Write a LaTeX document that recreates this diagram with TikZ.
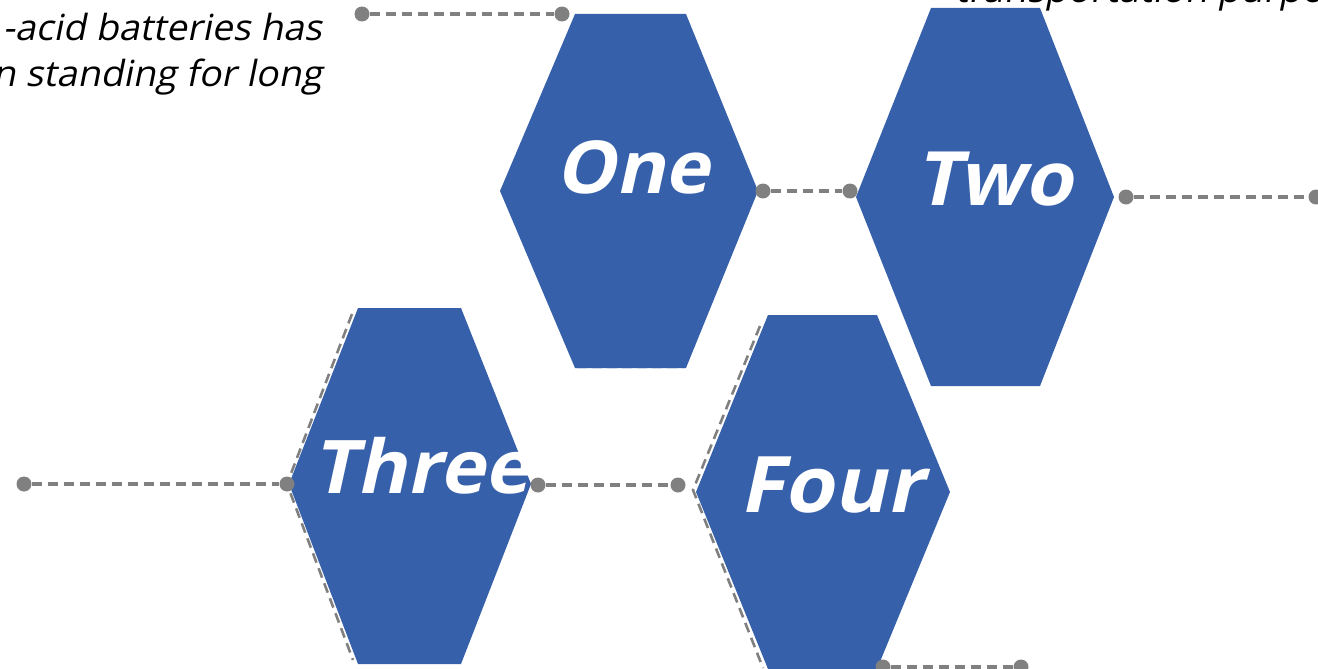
\documentclass[tikz,border=0pt]{standalone}
\usepackage{fontspec}
\setmainfont{Open Sans}[FakeSlant=0.2,FakeStretch=1.04]
\newfontfamily\lblfont{Open Sans}[FakeSlant=0.22,FakeStretch=1.03]
\definecolor{hexblue}{RGB}{55,96,170}
\definecolor{conngray}{RGB}{128,128,128}
\begin{document}
\begin{tikzpicture}[x=1pt,y=-1pt,
  hexfill/.style={fill=hexblue},
  dot/.style={circle,fill=conngray,inner sep=0pt,minimum size=15pt},
  conn/.style={draw=conngray,line width=3.2pt,dash pattern=on 10pt off 6pt},
  lbl/.style={text=white,anchor=base,inner sep=0pt},
  body/.style={font=\fontsize{36}{45}\selectfont,inner sep=0pt,text=black}]
\useasboundingbox (0,0) rectangle (1318,669);
\clip (0,0) rectangle (1318,669);
% hexagons
\fill[hexfill] (500,191) -- (575,14) -- (686,14) -- (758,191) -- (686,368) -- (575,368) -- cycle;
\fill[hexfill] (856,197) -- (931,8) -- (1040,8) -- (1114,197) -- (1040,386) -- (931,386) -- cycle;
\fill[hexfill] (289,484) -- (358,308) -- (461,308) -- (531,484) -- (461,664) -- (358,664) -- cycle;
\fill[hexfill] (696,492) -- (768,315) -- (877,315) -- (950,492) -- (877,669) -- (768,669) -- cycle;
\draw[white!75!hexblue,line width=1pt,dash pattern=on 10pt off 5pt] (577,368) -- (684,368);
% dashed outlines
\coordinate (t1) at (352,314);
\coordinate (t3) at (353,660);
\coordinate (f1) at (760,326);
\coordinate (f2) at (693,490);
\coordinate (f3) at (763,668);
% dots
\node[dot] (d1) at (362,14) {};
\node[dot] (d2) at (562,14) {};
\node[dot] (d3) at (763,191) {};
\node[dot] (d4) at (850,191) {};
\node[dot] (d5) at (1126,197) {};
\node[dot] (d6) at (1316,197) {};
\node[dot] (d7) at (24,484) {};
\node[dot] (d8) at (287,484) {};
\node[dot] (d9) at (538,485) {};
\node[dot] (d10) at (678,485) {};
\node[dot] (d11) at (883,667) {};
\node[dot] (d12) at (1021,667) {};
\draw[conn] (d1) -- (d2);
\draw[conn] (d3) -- (d4);
\draw[conn] (d5) -- (d6);
\draw[conn] (d7) -- (d8);
\draw[conn] (d9) -- (d10);
\draw[conn] (d11) -- (d12);
\draw[conn,line width=2.6pt] (t1) -- (d8.center) -- (t3);
\draw[conn,line width=2.6pt] (f1) -- (f2) -- (f3);
% labels
\node[lbl,font=\lblfont\bfseries\fontsize{73}{73}\selectfont] (one) at (632,193) {One};
\node[lbl,font=\lblfont\bfseries\fontsize{75}{75}\selectfont] (two) at (994,205) {Two};
\node[lbl,font=\lblfont\bfseries\fontsize{74}{74}\selectfont] (three) at (421,493) {Three};
\node[lbl,font=\lblfont\bfseries\fontsize{78}{78}\selectfont] (four) at (831,512) {Four};
% body text
\node[body,anchor=base east] (txa) at (322,41) {-acid batteries has};
\node[body,anchor=base east] (txb) at (322,86) {n standing for long};
\node[body,anchor=base west] (txc) at (955,3) {transportation purpo};
\end{tikzpicture}
\end{document}
